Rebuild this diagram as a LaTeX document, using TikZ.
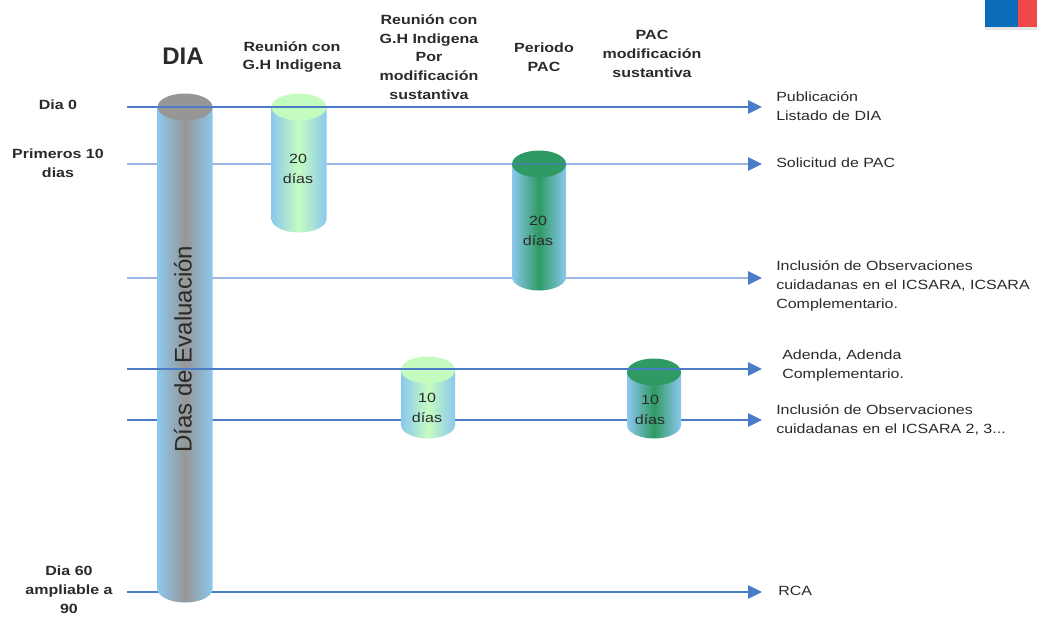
\documentclass[tikz,border=0pt]{standalone}
\usepackage{fontspec}
\setmainfont[FakeStretch=1.2]{Liberation Sans}
\newfontfamily\plainfont{Liberation Sans}
\usetikzlibrary{arrows.meta}
\definecolor{cylblue}{HTML}{8CC8EE}
\definecolor{cylgray}{HTML}{969696}
\definecolor{cyllight}{HTML}{C4FCC0}
\definecolor{cylgreen}{HTML}{2F9A64}
\definecolor{linkblue}{HTML}{4A7CC8}
\definecolor{txt}{HTML}{2A2A2A}
\tikzset{
  link/.style={draw=linkblue,line width=1.6pt,-{Triangle[length=10.5pt,width=10pt,fill=linkblue]}},
  palelink/.style={draw=linkblue,line width=2pt,draw opacity=.55},
  headtxt/.style={font=\bfseries\fontsize{10}{14}\selectfont,text=txt,align=center,inner sep=0pt},
  sidetxt/.style={font=\bfseries\fontsize{10}{14.3}\selectfont,text=txt,align=center,inner sep=0pt},
  righttxt/.style={font=\fontsize{10}{14.3}\selectfont,text=txt,align=left,anchor=west,inner sep=0pt},
  cyltxt/.style={font=\fontsize{10}{15}\selectfont,text=txt,align=center,inner sep=0pt},
}
% #1 centre x, #2 half width, #3 top centre y, #4 bottom centre y, #5 ry, #6 middle colour
\newcommand{\cyl}[6]{%
  \path[shading=axis,left color=cylblue,right color=cylblue,middle color=#6,shading angle=90]
    (#1-#2,#3) -- (#1-#2,#4) arc[start angle=180,end angle=360,x radius=#2,y radius=-#5]
    -- (#1+#2,#3) -- cycle;
  \fill[#6] (#1,#3) ellipse[x radius=#2,y radius=#5];
}
\begin{document}
\begin{tikzpicture}[x=0.75pt,y=-0.75pt]
\useasboundingbox (0,0) rectangle (1037,617);
% flag
\fill[black!10] (985,27) rectangle (1037,30);
\fill[fill={rgb,255:red,10;green,108;blue,184}] (985,0) rectangle (1018,27);
\fill[fill={rgb,255:red,240;green,72;blue,72}] (1018,0) rectangle (1037,27);
% connector ends
\coordinate (s0) at (127,107); \coordinate (e0) at (762,107);
\coordinate (s1) at (127,164); \coordinate (t1) at (748,164); \coordinate (e1) at (762,164);
\coordinate (s2) at (127,278); \coordinate (t2) at (748,278); \coordinate (e2) at (762,278);
\coordinate (s3) at (127,369); \coordinate (e3) at (762,369);
\coordinate (s4) at (127,420); \coordinate (e4) at (762,420);
\coordinate (s5) at (127,592); \coordinate (e5) at (762,592);
% lines behind the cylinders
\draw[palelink] (s2) -- (t2);
\draw[link] (t2) -- (e2);
\draw[link] (s4) -- (e4);
\draw[link] (s5) -- (e5);
% cylinders
\cyl{539}{27}{164}{277}{13.5}{cylgreen}
\draw[palelink] (s1) -- (t1);
\draw[link] (t1) -- (e1);
\cyl{185}{27.5}{107}{589}{13.5}{cylgray}
\cyl{299}{27.5}{107}{219}{13.5}{cyllight}
\cyl{428}{27}{370}{425}{13.5}{cyllight}
\cyl{654}{27}{372}{425}{13.5}{cylgreen}
% lines in front
\draw[link] (s0) -- (e0);
\draw[link] (s3) -- (e3);
% cylinder labels
\node[rotate=90,font=\plainfont\fontsize{18}{20}\selectfont,text=txt,inner sep=0pt] (ev) at (183,349) {Días de Evaluación};
\node[cyltxt] (c1) at (298,169) {20\\días};
\node[cyltxt] (c2) at (538,231) {20\\días};
\node[cyltxt] (c3) at (427,408) {10\\días};
\node[cyltxt] (c4) at (650,410) {10\\días};
% headers
\node[font=\plainfont\bfseries\fontsize{18}{20}\selectfont,text=txt,inner sep=0pt] (h0) at (183,56) {DIA};
\node[headtxt] (h1) at (292,57) {Reunión con\\G.H Indigena};
\node[headtxt] (h2) at (429,57) {Reunión con\\G.H Indigena\\Por\\modificación\\sustantiva};
\node[headtxt] (h3) at (544,57) {Periodo\\PAC};
\node[headtxt] (h4) at (652,54) {PAC\\modificación\\sustantiva};
% left labels
\node[sidetxt] (l0) at (58,105) {Dia 0};
\node[sidetxt] (l1) at (58,163) {Primeros 10\\dias};
\node[sidetxt] (l2) at (69,590) {Dia 60\\ampliable a\\90};
% right labels
\node[righttxt] (r0) at (776,106) {Publicación\\Listado de DIA};
\node[righttxt] (r1) at (776,163) {Solicitud de PAC};
\node[righttxt] (r2) at (776,286) {Inclusión de Observaciones\\cuidadanas en el ICSARA, ICSARA\\Complementario.};
\node[righttxt] (r3) at (782,366) {Adenda, Adenda\\Complementario.};
\node[righttxt] (r4) at (776,420) {Inclusión de Observaciones\\cuidadanas en el ICSARA 2, 3...};
\node[righttxt] (r5) at (778,591) {RCA};
\end{tikzpicture}
\end{document}
